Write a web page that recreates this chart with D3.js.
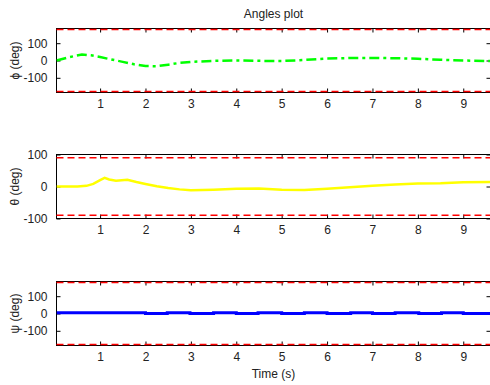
<!DOCTYPE html>
<html>
<head>
<meta charset="utf-8">
<script src="https://cdn.jsdelivr.net/npm/d3@7/dist/d3.min.js"></script>
<style>
  body { margin: 0; background: #fff; }
  svg { display: block; }
  text { font-family: "Liberation Sans", Arial, sans-serif; fill: #222; }
  .tick text { font-size: 12px; }
</style>
</head>
<body>
<div id="chart"></div>
<script>
// time span of the run and axis ticks
const timeDomain = [0.04, 9.6];
const timeTicks = [1, 2, 3, 4, 5, 6, 7, 8, 9];

// roll angle (deg)
const phiTime = [0.04, 0.3, 0.6, 0.8, 1.0, 1.25, 1.5, 1.75, 2.0, 2.25, 2.5, 2.75, 3.0, 3.5, 4.0, 4.5, 5.0, 5.5, 6.0, 6.5, 7.0, 7.5, 8.0, 8.5, 9.0, 9.6];
const phiDeg = [0, 18, 35, 30, 20, 6, -8, -22, -32, -33, -24, -14, -8, -2, 0, -2, -3, 3, 11, 14, 15, 13, 10, 4, 0, -3];

// pitch angle (deg)
const thetaTime = [0.04, 0.5, 0.7, 0.85, 1.0, 1.1, 1.2, 1.35, 1.6, 1.8, 2.0, 2.25, 2.5, 2.75, 3.0, 3.5, 4.0, 4.5, 5.0, 5.5, 6.0, 6.5, 7.0, 7.5, 8.0, 8.5, 9.0, 9.6];
const thetaDeg = [0, 0, 2, 8, 20, 27, 22, 18, 21, 14, 8, 1, -5, -9, -12, -10, -7, -6, -10, -11, -7, -2, 2, 6, 9, 10, 13, 14];

// yaw angle (deg), small step pattern
const psiTime = [0.04, 2.0, 2.48, 2.98, 3.5, 4.0, 4.48, 5.0, 5.5, 6.0, 6.52, 7.0, 7.5, 8.02, 8.52, 9.0, 9.6];
const psiDeg = [5, 0, 5, 0, 5, 0, 5, 0, 5, 0, 5, 0, 5, 0, 5, 0, 0];

// y limits, limit lines and ticks per panel
const yLimits = [[-185, 185], [-100, 100], [-185, 185]];
const limitLines = [[-180, 180], [-90, 90], [-180, 180]];
const yTicks = [-100, 0, 100];
const yLabels = ["\u03d5 (deg)", "\u03b8 (deg)", "\u03c8 (deg)"];

const width = 490, height = 385;
const left = 56.5, right = 490.5;
const panelTops = [28.5, 154.5, 281.5];
const panelH = 64;

const panels = [
  { t: phiTime, v: phiDeg, color: "#00ff00", dash: "10,4,3,4", w: 2.5, curve: d3.curveLinear, snap: true },
  { t: thetaTime, v: thetaDeg, color: "#ffff00", dash: null, w: 2.5, curve: d3.curveLinear, snap: false },
  { t: psiTime, v: psiDeg, color: "#0000ff", dash: null, w: 3, curve: d3.curveStepAfter, snap: true }
];

const svg = d3.select("#chart").append("svg")
  .attr("width", width)
  .attr("height", height);

const x = d3.scaleLinear().domain(timeDomain).range([left, right]);

panels.forEach((p, i) => {
  const top = panelTops[i];
  const y = d3.scaleLinear().domain(yLimits[i]).range([top + panelH, top]);
  const g = svg.append("g");

  const clipId = "clip" + i;
  g.append("clipPath").attr("id", clipId)
    .append("rect").attr("x", left).attr("y", top).attr("width", right - left).attr("height", panelH);

  // frame
  g.append("rect")
    .attr("x", left).attr("y", top)
    .attr("width", right - left).attr("height", panelH)
    .attr("fill", "none")
    .attr("stroke", "#000")
    .attr("stroke-width", 1)
    .attr("shape-rendering", "crispEdges");

  // axes with inward ticks on every side, plain hyphen for negatives
  const fmt = d => String(d);
  const xAxisB = d3.axisBottom(x).tickValues(timeTicks).tickSizeInner(-4).tickSizeOuter(0).tickPadding(7).tickFormat(fmt);
  const xAxisT = d3.axisTop(x).tickValues(timeTicks).tickSizeInner(-4).tickSizeOuter(0).tickFormat("");
  const yAxisL = d3.axisLeft(y).tickValues(yTicks).tickSizeInner(-4).tickSizeOuter(0).tickPadding(9).tickFormat(fmt);
  const yAxisR = d3.axisRight(y).tickValues(yTicks).tickSizeInner(-4).tickSizeOuter(0).tickFormat("");

  [[xAxisB, 0, top + panelH], [xAxisT, 0, top], [yAxisL, left, 0], [yAxisR, right, 0]].forEach(([ax, tx, ty]) => {
    const a = g.append("g").attr("transform", "translate(" + tx + "," + ty + ")").call(ax);
    a.select(".domain").remove();
    a.selectAll("line").attr("stroke", "#000");
    a.selectAll("text").attr("fill", "#222").attr("font-family", null).attr("font-size", null);
  });

  // data line
  const pts = p.t.map((t, k) => [t, p.v[k]]);
  const line = d3.line().x(d => x(d[0])).y(d => y(d[1])).curve(p.curve);
  g.append("path")
    .datum(pts)
    .attr("clip-path", "url(#" + clipId + ")")
    .attr("fill", "none")
    .attr("stroke", p.color)
    .attr("stroke-width", p.w)
    .attr("stroke-dasharray", p.dash)
    .attr("d", line);

  // red limit lines, drawn over the frame
  const ly = d => p.snap ? Math.floor(y(d)) + 0.5 : y(d);
  g.selectAll(".limit")
    .data(limitLines[i])
    .enter()
    .append("line")
    .attr("class", "limit")
    .attr("x1", left).attr("x2", right)
    .attr("y1", ly).attr("y2", ly)
    .attr("stroke", "#ff0000")
    .attr("stroke-width", 1.5)
    .attr("stroke-dasharray", "7,4");

  // y label
  g.append("text")
    .attr("transform", "translate(19," + (top + panelH / 2) + ") rotate(-90)")
    .attr("text-anchor", "middle")
    .attr("font-size", 12)
    .text(yLabels[i]);
});

svg.append("text")
  .attr("x", (left + right) / 2)
  .attr("y", 17.5)
  .attr("text-anchor", "middle")
  .attr("font-size", 12)
  .text("Angles plot");

svg.append("text")
  .attr("x", (left + right) / 2)
  .attr("y", 377.5)
  .attr("text-anchor", "middle")
  .attr("font-size", 12)
  .text("Time (s)");
</script>
</body>
</html>
